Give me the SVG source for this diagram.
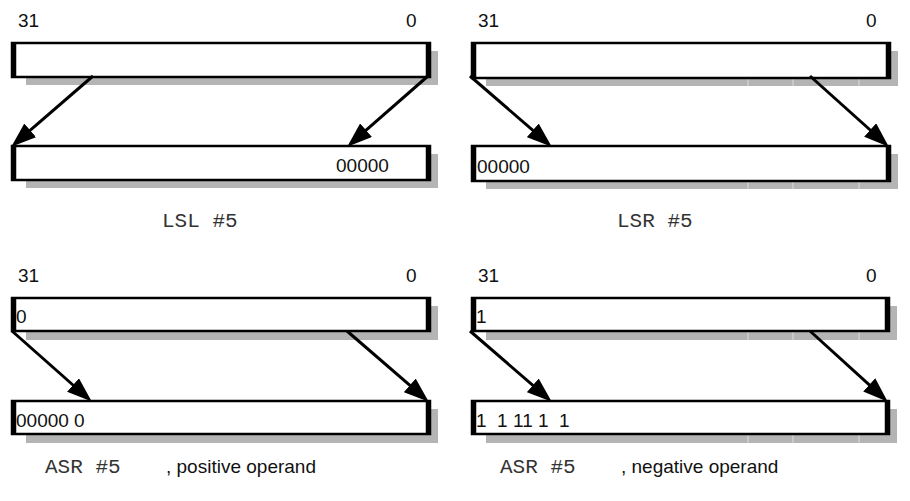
<svg xmlns="http://www.w3.org/2000/svg" width="910" height="501" viewBox="0 0 910 501">
<style>
.bg{fill:#ffffff}
.box{fill:#ffffff;stroke:#000;stroke-width:2.5}
.side{stroke:#000;stroke-width:4.5}
.sh{fill:#b4b4b4}
.gap{stroke:#dcdcdc;stroke-width:1}
.num{font-family:"Liberation Sans",Arial,sans-serif;font-size:19px;fill:#111}
.mono{font-family:"Liberation Mono","Courier New",monospace;font-size:21px;fill:#333}
.lab{font-family:"Liberation Sans",Arial,sans-serif;font-size:19px;fill:#111}
.arr{stroke:#000;stroke-width:3;fill:none;marker-end:url(#ah)}
</style>
<defs>
<marker id="ah" markerUnits="userSpaceOnUse" markerWidth="26" markerHeight="18" viewBox="0 0 26 18" refX="12" refY="9" orient="auto">
<path d="M0,0 L25,9 L0,18 z" fill="#000"/>
</marker>
</defs>
<rect class="bg" x="0" y="0" width="910" height="501"/>

<g id="lsl">
<text class="num" x="18" y="27">31</text>
<text class="num" x="406" y="27">0</text>
<g id="lsl-src">
<rect class="sh" x="26" y="51" width="412" height="34"/>
<rect class="box" x="12" y="43" width="418" height="34"/>
<line class="side" x1="14" y1="43" x2="14" y2="77"/><line class="side" x1="428" y1="43" x2="428" y2="77"/>
</g>
<g id="lsl-dst">
<rect class="sh" x="26" y="154" width="412" height="34"/>
<rect class="box" x="12" y="146" width="418" height="34"/>
<line class="side" x1="14" y1="146" x2="14" y2="180"/><line class="side" x1="428" y1="146" x2="428" y2="180"/>
<text class="num" x="336" y="172">00000</text>
</g>
<text class="mono" x="162" y="227">LSL #5</text>
</g>

<g id="lsr">
<text class="num" x="478" y="27">31</text>
<text class="num" x="866" y="27">0</text>
<g id="lsr-src">
<rect class="sh" x="486" y="51" width="412" height="35"/>
<line class="gap" x1="748" y1="78" x2="748" y2="86"/><line class="gap" x1="793" y1="78" x2="793" y2="86"/><line class="gap" x1="859" y1="78" x2="859" y2="86"/>
<rect class="box" x="472" y="43" width="418" height="35"/>
<line class="side" x1="474" y1="43" x2="474" y2="78"/><line class="side" x1="888" y1="43" x2="888" y2="78"/>
</g>
<g id="lsr-dst">
<rect class="sh" x="486" y="154" width="412" height="35"/>
<line class="gap" x1="748" y1="181" x2="748" y2="189"/><line class="gap" x1="793" y1="181" x2="793" y2="189"/><line class="gap" x1="859" y1="181" x2="859" y2="189"/>
<rect class="box" x="472" y="146" width="418" height="35"/>
<line class="side" x1="474" y1="146" x2="474" y2="181"/><line class="side" x1="888" y1="146" x2="888" y2="181"/>
<text class="num" x="477" y="173">00000</text>
</g>
<text class="mono" x="617" y="227">LSR #5</text>
</g>

<g id="asr-pos">
<text class="num" x="18" y="282">31</text>
<text class="num" x="406" y="282">0</text>
<g id="asrp-src">
<rect class="sh" x="26" y="306" width="412" height="34"/>
<rect class="box" x="12" y="298" width="418" height="33"/>
<line class="side" x1="14" y1="298" x2="14" y2="331"/><line class="side" x1="428" y1="298" x2="428" y2="331"/>
<text class="num" x="16" y="323">0</text>
</g>
<g id="asrp-dst">
<rect class="sh" x="26" y="409" width="412" height="34"/>
<rect class="box" x="12" y="401" width="418" height="33"/>
<line class="side" x1="14" y1="401" x2="14" y2="434"/><line class="side" x1="428" y1="401" x2="428" y2="434"/>
<text class="num" x="16" y="427">00000 0</text>
</g>
<text class="mono" x="45" y="473">ASR #5</text>
<text class="lab" x="166" y="473">, positive operand</text>
</g>

<g id="asr-neg">
<text class="num" x="478" y="282">31</text>
<text class="num" x="866" y="282">0</text>
<g id="asrn-src">
<rect class="sh" x="486" y="306" width="411" height="34"/>
<line class="gap" x1="748" y1="331" x2="748" y2="340"/><line class="gap" x1="793" y1="331" x2="793" y2="340"/><line class="gap" x1="859" y1="331" x2="859" y2="340"/>
<rect class="box" x="472" y="298" width="417" height="33"/>
<line class="side" x1="474" y1="298" x2="474" y2="331"/><line class="side" x1="887" y1="298" x2="887" y2="331"/>
<text class="num" x="476" y="323">1</text>
</g>
<g id="asrn-dst">
<rect class="sh" x="486" y="409" width="411" height="34"/>
<line class="gap" x1="748" y1="434" x2="748" y2="443"/><line class="gap" x1="793" y1="434" x2="793" y2="443"/><line class="gap" x1="859" y1="434" x2="859" y2="443"/>
<rect class="box" x="472" y="401" width="417" height="33"/>
<line class="side" x1="474" y1="401" x2="474" y2="434"/><line class="side" x1="887" y1="401" x2="887" y2="434"/>
<text class="num" x="476" y="427" xml:space="preserve">1  1 11 1  1</text>
</g>
<text class="mono" x="500" y="473">ASR #5</text>
<text class="lab" x="621" y="473">, negative operand</text>
</g>

<g id="connectors">
<line class="arr" x1="93" y1="76" x2="21.1" y2="138.2"/>
<line class="arr" x1="428" y1="76" x2="357" y2="138.1"/>
<line class="arr" x1="470" y1="76" x2="541.9" y2="138.2"/>
<line class="arr" x1="810" y1="76" x2="879.1" y2="138"/>
<line class="arr" x1="12" y1="331" x2="82" y2="393"/>
<line class="arr" x1="347" y1="331" x2="418.9" y2="393.2"/>
<line class="arr" x1="470" y1="331" x2="541.9" y2="393.2"/>
<line class="arr" x1="810" y1="331" x2="878.1" y2="392.9"/>
</g>
</svg>
